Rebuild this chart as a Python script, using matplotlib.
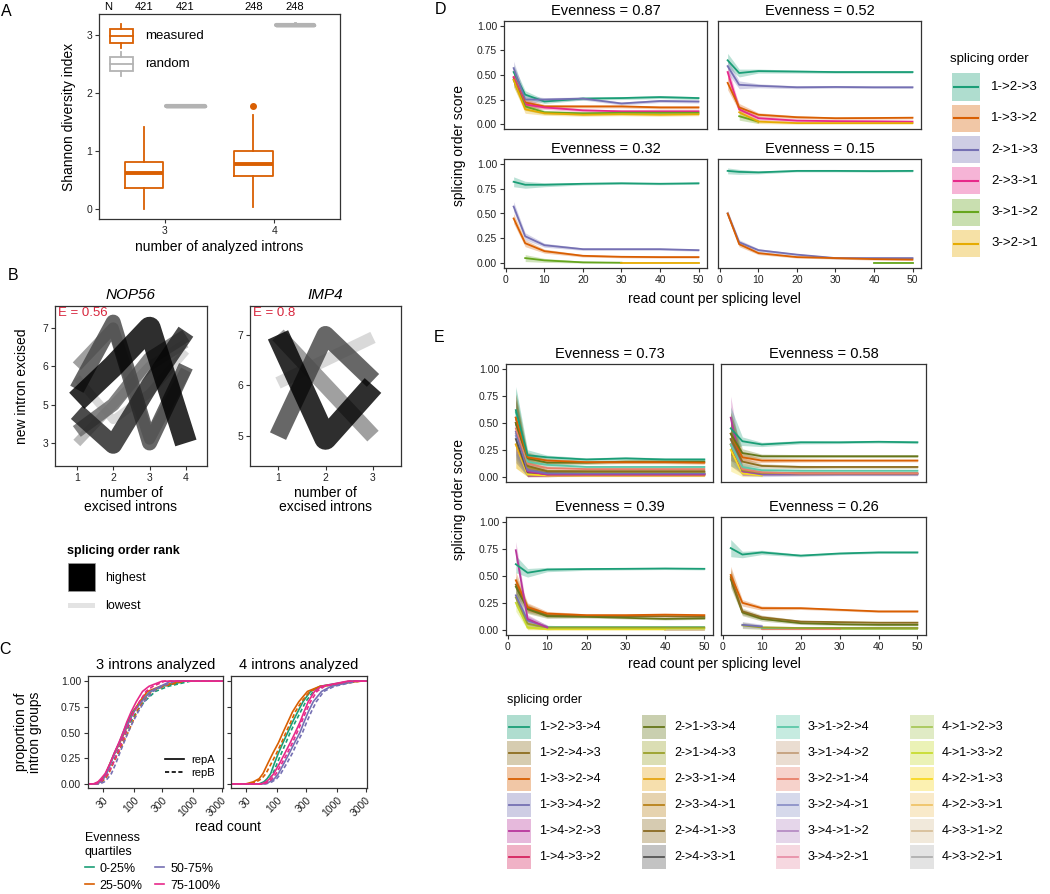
import numpy as np
import matplotlib.pyplot as plt
from matplotlib.patches import Rectangle
from matplotlib.lines import Line2D

plt.rcParams['font.family'] = ['Liberation Sans', 'DejaVu Sans']

# --------------------------
# Panel A data: Shannon diversity of splicing orders
# --------------------------
n_introns = [3, 4]
n_groups = [421, 248]
measured_q1 = [0.36, 0.57]
measured_med = [0.62, 0.78]
measured_q3 = [0.81, 1.00]
measured_lo = [0.00, 0.03]
measured_hi = [1.42, 1.62]
measured_out = [[], [1.77]]
random_index = [1.78, 3.17]
random_hi = [1.79, 3.20]

# --------------------------
# Panel B data: example genes (y = intron position, x = excision step)
# --------------------------
nop56_introns = ['3', '5', '6', '7']
nop56_paths = [
    [2.1, 3.0, 4.0, 1.0],
    [1.8, 0.95, 2.5, 3.9],
    [2.4, 4.15, 1.0, 3.0],
    [1.3, 2.0, 3.2, 3.8],
    [3.0, 4.0, 1.1, 2.9],
    [1.0, 2.0, 3.0, 3.6],
    [2.7, 1.6, 2.3, 3.4],
]
nop56_score = [0.30, 0.22, 0.17, 0.14, 0.10, 0.07, 0.05]
nop56_even = 0.56

imp4_introns = ['5', '6', '7']
imp4_paths = [
    [3.0, 0.95, 2.0],
    [1.0, 3.0, 2.1],
    [3.0, 2.0, 1.0],
    [2.05, 2.5, 2.95],
]
imp4_score = [0.30, 0.22, 0.18, 0.12]
imp4_even = 0.8

# --------------------------
# Panel C data: cumulative read count distributions (quantiles)
# --------------------------
cum_prop = [0, 0.02, 0.05, 0.1, 0.2, 0.3, 0.4, 0.5, 0.6, 0.7, 0.8, 0.9, 0.95, 1.0]
quartiles = ['0-25%', '25-50%', '50-75%', '75-100%']
reads3_repA = [
    [22, 26, 30, 34, 40, 47, 57, 66, 78, 95, 130, 190, 300, 750],
    [23, 27, 30, 34, 40, 48, 58, 70, 82, 98, 125, 170, 280, 600],
    [24, 28, 31, 35, 41, 48, 57, 68, 82, 100, 135, 190, 280, 420],
    [21, 25, 28, 33, 40, 47, 56, 66, 76, 90, 110, 140, 180, 300],
]
reads3_repB = [
    [24, 28, 32, 37, 44, 52, 62, 74, 88, 110, 150, 230, 380, 900],
    [25, 29, 33, 38, 45, 55, 66, 80, 95, 112, 140, 200, 320, 700],
    [27, 32, 36, 42, 50, 58, 68, 80, 96, 118, 150, 210, 300, 500],
    [23, 27, 31, 37, 45, 53, 62, 73, 85, 100, 125, 160, 210, 330],
]
reads4_repA = [
    [50, 60, 68, 78, 90, 105, 125, 150, 180, 220, 270, 360, 520, 1700],
    [30, 40, 50, 58, 70, 85, 105, 125, 150, 180, 230, 320, 520, 2400],
    [60, 75, 90, 105, 130, 160, 195, 240, 280, 330, 400, 550, 800, 2000],
    [55, 65, 75, 88, 110, 135, 165, 200, 240, 280, 330, 420, 550, 1500],
]
reads4_repB = [
    [55, 66, 75, 85, 100, 118, 140, 165, 200, 245, 300, 400, 600, 1900],
    [35, 45, 55, 65, 80, 98, 118, 140, 168, 200, 255, 350, 560, 2500],
    [65, 82, 98, 115, 145, 180, 215, 265, 310, 370, 450, 600, 900, 2200],
    [60, 72, 82, 96, 120, 148, 180, 215, 255, 300, 360, 460, 620, 1600],
]

# --------------------------
# Panels D/E data: splicing order score vs read count per level
# --------------------------
read_levels = [2, 5, 10, 20, 30, 40, 50]
nan = None

d_orders = ['1->2->3', '1->3->2', '2->1->3', '2->3->1', '3->1->2', '3->2->1']
d_titles = ['Evenness = 0.87', 'Evenness = 0.52', 'Evenness = 0.32', 'Evenness = 0.15']
d_even_087 = {
    '1->2->3': [0.53, 0.30, 0.23, 0.26, 0.265, 0.275, 0.265],
    '2->1->3': [0.57, 0.25, 0.25, 0.26, 0.21, 0.235, 0.23],
    '1->3->2': [0.47, 0.22, 0.18, 0.18, 0.18, 0.17, 0.17],
    '2->3->1': [0.48, 0.20, 0.17, 0.14, 0.13, 0.13, 0.13],
    '3->1->2': [0.45, 0.18, 0.12, 0.11, 0.115, 0.115, 0.115],
    '3->2->1': [0.45, 0.15, 0.11, 0.095, 0.10, 0.095, 0.10],
}
d_even_052 = {
    '1->2->3': [0.65, 0.52, 0.54, 0.535, 0.53, 0.53, 0.53],
    '2->1->3': [0.59, 0.40, 0.39, 0.375, 0.378, 0.375, 0.375],
    '2->3->1': [0.53, 0.15, 0.06, 0.035, 0.03, 0.028, 0.025],
    '1->3->2': [0.42, 0.17, 0.095, 0.07, 0.06, 0.062, 0.065],
    '3->1->2': [nan, 0.08, 0.025, nan, nan, nan, nan],
    '3->2->1': [nan, 0.12, 0.025, 0.01, 0.01, 0.01, 0.01],
}
d_even_032 = {
    '1->2->3': [0.82, 0.79, 0.79, 0.80, 0.805, 0.80, 0.805],
    '2->1->3': [0.57, 0.27, 0.18, 0.14, 0.14, 0.14, 0.13],
    '1->3->2': [0.45, 0.20, 0.12, 0.073, 0.063, 0.06, 0.06],
    '3->1->2': [nan, 0.05, 0.027, 0.007, 0.003, nan, nan],
    '3->2->1': [nan, nan, nan, nan, 0.0, 0.0, 0.0],
}
d_even_015 = {
    '1->2->3': [0.93, 0.92, 0.915, 0.93, 0.93, 0.928, 0.93],
    '2->1->3': [0.50, 0.21, 0.13, 0.085, 0.05, 0.05, 0.05],
    '1->3->2': [0.50, 0.19, 0.10, 0.06, 0.05, 0.04, 0.035],
    '3->1->2': [nan, nan, nan, nan, nan, 0.0, 0.0],
}
d_ci = [
    [0.07, 0.04, 0.02, 0.015, 0.015, 0.015, 0.015],
    [0.07, 0.04, 0.02, 0.015, 0.012, 0.012, 0.012],
    [0.05, 0.035, 0.02, 0.012, 0.01, 0.01, 0.01],
    [0.03, 0.025, 0.015, 0.01, 0.01, 0.01, 0.01],
]

e_orders = ['1->2->3->4', '1->2->4->3', '1->3->2->4', '1->3->4->2', '1->4->2->3', '1->4->3->2',
            '2->1->3->4', '2->1->4->3', '2->3->1->4', '2->3->4->1', '2->4->1->3', '2->4->3->1',
            '3->1->2->4', '3->1->4->2', '3->2->1->4', '3->2->4->1', '3->4->1->2', '3->4->2->1',
            '4->1->2->3', '4->1->3->2', '4->2->1->3', '4->2->3->1', '4->3->1->2', '4->3->2->1']
e_titles = ['Evenness = 0.73', 'Evenness = 0.58', 'Evenness = 0.39', 'Evenness = 0.26']
e_even_073 = {
    '4->3->2->1': [0.40, 0.03, 0.02, 0.02, 0.02, 0.02, 0.02],
    '4->2->1->3': [0.30, 0.02, 0.01, 0.01, 0.01, 0.01, 0.01],
    '2->3->1->4': [0.30, 0.04, 0.02, 0.02, 0.02, 0.02, 0.02],
    '3->2->4->1': [0.38, 0.05, 0.025, 0.025, 0.025, 0.025, 0.025],
    '2->4->3->1': [0.35, 0.04, 0.03, 0.03, 0.03, 0.03, 0.03],
    '1->4->3->2': [0.55, 0.05, 0.02, 0.02, 0.02, 0.02, 0.02],
    '1->4->2->3': [0.50, 0.05, 0.02, 0.02, 0.02, 0.02, 0.02],
    '1->3->4->2': [0.42, 0.06, 0.03, 0.03, 0.03, 0.03, 0.03],
    '2->1->4->3': [0.55, 0.09, 0.05, 0.045, 0.045, 0.045, 0.045],
    '1->2->4->3': [0.50, 0.10, 0.05, 0.05, 0.05, 0.05, 0.05],
    '3->2->1->4': [0.45, 0.12, 0.08, 0.07, 0.07, 0.07, 0.07],
    '3->1->2->4': [0.60, 0.14, 0.11, 0.09, 0.09, 0.09, 0.09],
    '2->1->3->4': [0.50, 0.17, 0.13, 0.13, 0.14, 0.14, 0.14],
    '1->3->2->4': [0.55, 0.18, 0.15, 0.135, 0.135, 0.135, 0.13],
    '1->2->3->4': [0.62, 0.20, 0.18, 0.16, 0.17, 0.16, 0.16],
}
e_even_058 = {
    '4->2->1->3': [0.25, 0.03, 0.01, nan, nan, nan, nan],
    '1->3->4->2': [0.35, 0.05, 0.02, 0.02, 0.02, 0.02, 0.02],
    '1->4->2->3': [0.55, 0.05, 0.03, 0.03, 0.03, 0.03, 0.03],
    '2->1->4->3': [0.30, 0.06, 0.035, 0.03, 0.03, 0.03, 0.03],
    '3->2->1->4': [0.30, 0.07, 0.04, 0.03, 0.03, 0.03, 0.03],
    '3->1->2->4': [0.30, 0.09, 0.06, 0.055, 0.055, 0.055, 0.055],
    '1->2->4->3': [0.35, 0.14, 0.10, 0.09, 0.09, 0.09, 0.09],
    '1->3->2->4': [0.40, 0.18, 0.15, 0.15, 0.15, 0.15, 0.15],
    '2->1->3->4': [0.40, 0.22, 0.19, 0.19, 0.19, 0.19, 0.19],
    '1->2->3->4': [0.45, 0.33, 0.30, 0.32, 0.32, 0.325, 0.32],
}
e_even_039 = {
    '4->3->1->2': [nan, nan, nan, nan, nan, 0.0, 0.0],
    '4->2->1->3': [nan, 0.02, 0.003, 0.003, 0.003, 0.003, nan],
    '4->1->3->2': [0.25, 0.02, 0.01, 0.01, 0.01, 0.01, 0.01],
    '3->1->2->4': [nan, nan, 0.02, 0.02, 0.02, 0.02, 0.02],
    '2->1->4->3': [0.30, 0.055, 0.02, 0.02, 0.02, 0.02, 0.02],
    '1->3->4->2': [0.32, 0.085, 0.025, nan, nan, nan, nan],
    '1->2->4->3': [0.42, 0.20, 0.135, 0.125, 0.125, 0.125, 0.12],
    '2->1->3->4': [0.40, 0.19, 0.125, 0.12, 0.11, 0.10, 0.105],
    '1->3->2->4': [0.46, 0.21, 0.15, 0.135, 0.135, 0.14, 0.135],
    '1->4->2->3': [0.74, 0.10, 0.02, nan, nan, nan, nan],
    '1->2->3->4': [0.61, 0.53, 0.56, 0.565, 0.567, 0.57, 0.567],
}
e_even_026 = {
    '4->1->2->3': [nan, nan, nan, nan, 0.01, 0.01, 0.01],
    '3->2->1->4': [nan, nan, 0.01, 0.01, 0.01, nan, nan],
    '3->1->2->4': [nan, nan, 0.012, 0.012, 0.012, 0.012, 0.012],
    '2->1->4->3': [nan, 0.04, 0.02, 0.015, 0.015, 0.015, 0.015],
    '1->3->4->2': [nan, 0.045, 0.03, nan, nan, nan, nan],
    '2->1->3->4': [0.47, 0.16, 0.10, 0.06, 0.05, 0.045, 0.045],
    '1->2->4->3': [0.49, 0.17, 0.115, 0.075, 0.07, 0.065, 0.065],
    '1->3->2->4': [0.51, 0.25, 0.20, 0.20, 0.185, 0.17, 0.17],
    '1->2->3->4': [0.76, 0.70, 0.72, 0.69, 0.71, 0.72, 0.72],
}
e_ci = [
    [0.22, 0.05, 0.02, 0.015, 0.015, 0.015, 0.015],
    [0.20, 0.04, 0.02, 0.015, 0.012, 0.012, 0.012],
    [0.08, 0.04, 0.02, 0.012, 0.01, 0.01, 0.01],
    [0.08, 0.03, 0.02, 0.012, 0.01, 0.01, 0.01],
]

# --------------------------
# Styles
# --------------------------
W, H = 1050, 894
fig = plt.figure(figsize=(W / 100, H / 100), dpi=100)
ORANGE = '#d95f02'
GRAY = '#b3b3b3'
RED = '#d7263d'
dark2 = ['#1b9e77', '#d95f02', '#7570b3', '#e7298a', '#66a61e', '#e6ab02']
d_colors = dict(zip(d_orders, dark2))
e_palette = ['#1b9e77', '#8c6d1f', '#d95f02', '#7570b3', '#b8379c', '#d6245e',
             '#66761a', '#9aa12a', '#e6a614', '#b8821a', '#8a6a22', '#555555',
             '#5cc8a8', '#c4a07c', '#e8806a', '#8c92c8', '#b68cc4', '#e890a8',
             '#a8c85a', '#c8dc30', '#f8d820', '#f0c468', '#d8c09a', '#b0b0b0']
e_colors = dict(zip(e_orders, e_palette))


def px_axes(x0, y0, x1, y1):
    return fig.add_axes([x0 / W, 1 - y1 / H, (x1 - x0) / W, (y1 - y0) / H])


def fx(px):
    return px / W


def fy(py):
    return 1 - py / H


def style(ax, size=7.5):
    for s in ax.spines.values():
        s.set_color('#333333')
        s.set_linewidth(0.9)
    ax.tick_params(length=3, width=0.8, color='#333333', labelsize=size,
                   labelcolor='#222222', pad=2)


def letter(px, py, s):
    fig.text(fx(px), fy(py), s, fontsize=11.5, ha='center', va='center')


# --------------------------
# Panel A
# --------------------------
axA = px_axes(99, 14, 340, 219)
style(axA)
meas_stats = [dict(q1=a, med=b, q3=c, whislo=d, whishi=e, fliers=f)
              for a, b, c, d, e, f in zip(measured_q1, measured_med, measured_q3,
                                          measured_lo, measured_hi, measured_out)]
rand_stats = [dict(q1=v, med=v, q3=v, whislo=v, whishi=h, fliers=[])
              for v, h in zip(random_index, random_hi)]
pos_meas = [n - 0.19 for n in n_introns]
pos_rand = [n + 0.19 for n in n_introns]
axA.bxp(meas_stats, positions=pos_meas, widths=0.35, showcaps=False,
        boxprops=dict(color=ORANGE, lw=1.3), whiskerprops=dict(color=ORANGE, lw=1.3),
        medianprops=dict(color=ORANGE, lw=2.8),
        flierprops=dict(marker='o', markerfacecolor=ORANGE, markeredgecolor=ORANGE, markersize=4))
axA.bxp(rand_stats, positions=pos_rand, widths=0.35, showcaps=False, showfliers=False,
        boxprops=dict(color=GRAY, lw=2.5, solid_capstyle='round'),
        whiskerprops=dict(color=GRAY, lw=2.0), medianprops=dict(color=GRAY, lw=3.0, solid_capstyle='round'))
axA.set_xlim(2.4, 4.6)
axA.set_ylim(-0.17, 3.36)
axA.set_xticks(n_introns)
axA.set_xticklabels([str(n) for n in n_introns])
axA.set_yticks([0, 1, 2, 3])
axA.set_xlabel('number of analyzed introns', fontsize=10, labelpad=3)
axA.set_ylabel('Shannon diversity index', fontsize=10, labelpad=7)
axA.text(0.02, 1.035, 'N', transform=axA.transAxes, fontsize=8, ha='left', va='center')
for pm, pr, n in zip(pos_meas, pos_rand, n_groups):
    for p in (pm, pr):
        axA.text(p, 1.035, str(n), transform=axA.get_xaxis_transform(),
                 fontsize=8, ha='center', va='center')
# legend glyphs
for col, yc, lab in [(ORANGE, 0.893, 'measured'), (GRAY, 0.756, 'random')]:
    axA.add_patch(Rectangle((0.046, yc - 0.034), 0.095, 0.068, transform=axA.transAxes,
                            facecolor='white', edgecolor=col, lw=1.3, zorder=5))
    axA.plot([0.046, 0.141], [yc, yc], color=col, lw=1.3, transform=axA.transAxes, zorder=6)
    axA.plot([0.093, 0.093], [yc + 0.034, yc + 0.058], color=col, lw=1.3, transform=axA.transAxes, zorder=6)
    axA.plot([0.093, 0.093], [yc - 0.034, yc - 0.058], color=col, lw=1.3, transform=axA.transAxes, zorder=6)
    axA.text(0.19, yc, lab, transform=axA.transAxes, fontsize=9.5, va='center', ha='left')
letter(6, 11, 'A')

# --------------------------
# Panel B
# --------------------------
def draw_gene(ax, paths, score, labels, title, even):
    order = np.argsort(score)
    n = len(paths)
    grays = np.linspace(0.0, 0.82, n)
    for rank_from_low, idx in enumerate(order):
        path = paths[idx]
        steps = np.arange(1, len(path) + 1)
        g = grays[n - 1 - rank_from_low]
        ax.plot(steps, path, color=(g, g, g), alpha=0.82, lw=4 + 40 * score[idx],
                solid_joinstyle='round', solid_capstyle='butt')
    k = len(labels)
    ax.set_xlim(0.4, k + 0.58)
    ax.set_ylim(0.4, k + 0.57)
    ax.set_xticks(np.arange(1, k + 1))
    ax.set_yticks(np.arange(1, k + 1))
    ax.set_yticklabels(labels)
    ax.set_title(title, fontsize=11, style='italic', pad=5)
    ax.set_xlabel('number of\nexcised introns', fontsize=10, labelpad=2, linespacing=1.0)
    ax.text(0.02, 0.955, f'E = {even}', transform=ax.transAxes, color=RED,
            fontsize=9.5, ha='left', va='center')
    style(ax)


axB1 = px_axes(55, 306, 207, 466)
draw_gene(axB1, nop56_paths, nop56_score, nop56_introns, 'NOP56', nop56_even)
axB2 = px_axes(250, 306, 401, 466)
draw_gene(axB2, imp4_paths, imp4_score, imp4_introns, 'IMP4', imp4_even)
axB2.set_xlim(0.41, 3.59)
axB2.set_ylim(0.41, 3.57)
fig.text(fx(22), fy(386), 'new intron excised', rotation=90, fontsize=10, ha='center', va='center')
letter(13, 275, 'B')

# rank legend
fig.text(fx(67), fy(551), 'splicing order rank', fontsize=9, weight='bold', ha='left', va='center')
fig.add_artist(Rectangle((fx(68), fy(591)), 27 / W, 28 / H, transform=fig.transFigure,
                         facecolor='black', edgecolor='#999999', lw=0.5))
fig.add_artist(Rectangle((fx(68), fy(608)), 27 / W, 5 / H, transform=fig.transFigure,
                         facecolor='#e3e3e3', edgecolor='none'))
fig.text(fx(105), fy(578), 'highest', fontsize=9, ha='left', va='center')
fig.text(fx(105), fy(606), 'lowest', fontsize=9, ha='left', va='center')

# --------------------------
# Panel C
# --------------------------
def draw_cdf(ax, rep_a, rep_b, title):
    x0, x1 = 17, 3150
    for i, (ra, rb) in enumerate(zip(rep_a, rep_b)):
        for reads, ls in [(ra, '-'), (rb, (0, (2.5, 1.5)))]:
            xs = [x0] + list(reads) + [x1]
            ys = [0] + list(cum_prop) + [1.0]
            ax.plot(xs, ys, color=dark2[i if i < 3 else 3], lw=1.2, ls=ls)
    ax.set_xscale('log')
    ax.set_xlim(x0, x1)
    ax.set_ylim(-0.04, 1.05)
    ax.set_xticks([30, 100, 300, 1000, 3000])
    ax.set_xticklabels(['30', '100', '300', '1000', '3000'], rotation=45, ha='right',
                       rotation_mode='anchor')
    ax.minorticks_off()
    ax.set_title(title, fontsize=10.5, pad=5)
    style(ax)


axC1 = px_axes(88, 676, 223, 788)
draw_cdf(axC1, reads3_repA, reads3_repB, '3 introns analyzed')
axC1.set_yticks([0, 0.25, 0.5, 0.75, 1.0])
axC1.set_yticklabels(['0.00', '0.25', '0.50', '0.75', '1.00'])
axC2 = px_axes(231, 676, 367, 788)
draw_cdf(axC2, reads4_repA, reads4_repB, '4 introns analyzed')
axC2.set_yticks([0, 0.25, 0.5, 0.75, 1.0])
axC2.tick_params(labelleft=False)
rep_handles = [Line2D([], [], color='black', lw=1.2, ls='-'),
               Line2D([], [], color='black', lw=1.2, ls=(0, (2.5, 1.5)))]
axC1.legend(rep_handles, ['repA', 'repB'], loc='lower right', bbox_to_anchor=(1.0, 0.02),
            fontsize=8, frameon=False, handlelength=1.7, labelspacing=0.25,
            borderpad=0.2, handletextpad=0.7)
fig.text(fx(28), fy(732), 'proportion of\nintron groups', rotation=90, fontsize=10,
         ha='center', va='center', linespacing=1.0)
fig.text(fx(228), fy(827), 'read count', fontsize=10, ha='center', va='center')
q_handles = [Line2D([], [], color=dark2[i if i < 3 else 3], lw=1.2) for i in range(4)]
fig.legend(q_handles, quartiles, ncol=2, loc='upper left', bbox_to_anchor=(fx(76), fy(823)),
           title='Evenness\nquartiles', alignment='left', fontsize=9, title_fontsize=9,
           handlelength=0.7, columnspacing=1.0, labelspacing=0.4, frameon=False,
           handletextpad=0.5, borderpad=0.2)
letter(5, 649, 'C')

# --------------------------
# Panels D and E
# --------------------------
def draw_score(ax, data, ci, colors, title, left, bottom):
    x = np.array(read_levels, dtype=float)
    c = np.array(ci, dtype=float)
    for name, vals in data.items():
        y = np.array(vals, dtype=float)
        ax.fill_between(x, np.clip(y - c, 0, None), y + c, color=colors[name], alpha=0.3, lw=0)
        ax.plot(x, y, color=colors[name], lw=1.3)
    ax.set_xlim(-0.5, 52.2)
    ax.set_ylim(-0.05, 1.05)
    ax.set_xticks([0, 10, 20, 30, 40, 50])
    ax.set_yticks([0, 0.25, 0.5, 0.75, 1.0])
    ax.set_yticklabels(['0.00', '0.25', '0.50', '0.75', '1.00'])
    ax.set_title(title, fontsize=10.5, pad=4)
    style(ax)
    if not left:
        ax.tick_params(left=False, labelleft=False)
    if not bottom:
        ax.tick_params(bottom=False, labelbottom=False)


d_boxes = [(504, 21, 707, 129), (718, 21, 921, 129), (504, 159, 707, 268), (718, 159, 921, 268)]
d_data = [d_even_087, d_even_052, d_even_032, d_even_015]
for i, (box, data, ci, title) in enumerate(zip(d_boxes, d_data, d_ci, d_titles)):
    ax = px_axes(*box)
    draw_score(ax, data, ci, d_colors, title, left=(i % 2 == 0), bottom=(i >= 2))
fig.text(fx(459), fy(145), 'splicing order score', rotation=90, fontsize=10, ha='center', va='center')
fig.text(fx(714), fy(299), 'read count per splicing level', fontsize=10, ha='center', va='center')
letter(440, 9, 'D')

# D legend
fig.text(fx(950), fy(59), 'splicing order', fontsize=9.5, ha='left', va='center')
for i, name in enumerate(d_orders):
    yc = 87 + 31.3 * i
    fig.add_artist(Rectangle((fx(952), fy(yc + 13.5)), 28 / W, 27 / H, transform=fig.transFigure,
                             facecolor=d_colors[name], alpha=0.35, edgecolor='none'))
    fig.add_artist(Line2D([fx(954), fx(978)], [fy(yc), fy(yc)], transform=fig.transFigure,
                          color=d_colors[name], lw=1.5))
    fig.text(fx(991), fy(yc), name, fontsize=9.5, ha='left', va='center')

e_boxes = [(506, 364, 713, 482), (721, 364, 926, 482), (506, 517, 713, 635), (721, 517, 926, 635)]
e_data = [e_even_073, e_even_058, e_even_039, e_even_026]
for i, (box, data, ci, title) in enumerate(zip(e_boxes, e_data, e_ci, e_titles)):
    ax = px_axes(*box)
    draw_score(ax, data, ci, e_colors, title, left=(i % 2 == 0), bottom=(i >= 2))
fig.text(fx(459), fy(500), 'splicing order score', rotation=90, fontsize=10, ha='center', va='center')
fig.text(fx(714), fy(664), 'read count per splicing level', fontsize=10, ha='center', va='center')
letter(439, 338, 'E')

# E legend
fig.text(fx(507), fy(700), 'splicing order', fontsize=9, ha='left', va='center')
col_x = [507, 642, 776, 910]
for i, name in enumerate(e_orders):
    x0 = col_x[i // 6]
    yc = 727 + 26 * (i % 6)
    fig.add_artist(Rectangle((fx(x0), fy(yc + 12)), 24 / W, 24 / H, transform=fig.transFigure,
                             facecolor=e_colors[name], alpha=0.35, edgecolor='none'))
    fig.add_artist(Line2D([fx(x0 + 2), fx(x0 + 22)], [fy(yc), fy(yc)], transform=fig.transFigure,
                          color=e_colors[name], lw=1.3))
    fig.text(fx(x0 + 32), fy(yc), name, fontsize=9, ha='left', va='center')

fig.savefig('out.png', dpi=100)
